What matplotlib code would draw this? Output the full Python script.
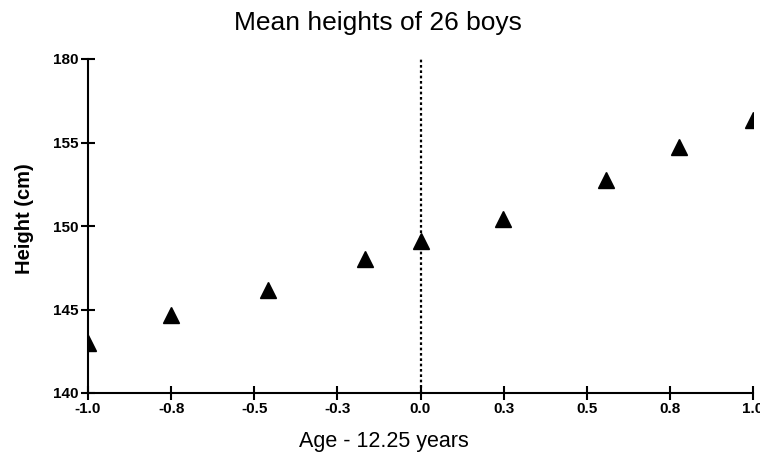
import matplotlib
matplotlib.use("Agg")
import matplotlib.pyplot as plt

# Data
age = [-1.0, -0.75, -0.46, -0.166, 0.0, 0.247, 0.557, 0.777, 1.0]
height = [143.0, 144.67, 146.17, 148.02, 149.1, 150.4, 152.75, 154.73, 156.35]

xticks = [-1.0, -0.75, -0.5, -0.25, 0.0, 0.25, 0.5, 0.75, 1.0]
xticklabels = ["-1.0", "-0.8", "-0.5", "-0.3", "0.0", "0.3", "0.5", "0.8", "1.0"]
yticks = [140, 145, 150, 155, 160]
yticklabels = ["140", "145", "150", "155", "180"]

plt.rcParams['font.family'] = ['Liberation Sans', 'DejaVu Sans']

fig = plt.figure(figsize=(7.6, 4.53), dpi=100)
ax = fig.add_axes([88/760, 60/453, (753-88)/760, (393-59)/453])

ax.plot(age, height, linestyle='none', marker='^', color='black',
        markersize=11, zorder=3)
ax.axvline(0.0, color='black', linestyle=(0, (1.2, 1.2)), linewidth=1.6, zorder=2)

ax.set_xlim(-1.0, 1.0)
ax.set_ylim(140, 160)
ax.set_xticks(xticks)
ax.set_xticklabels(xticklabels, fontweight='bold', fontsize=11)
ax.set_yticks(yticks)
ax.set_yticklabels(yticklabels, fontweight='bold', fontsize=11)

for s in ['top', 'right']:
    ax.spines[s].set_visible(False)
for s in ['left', 'bottom']:
    ax.spines[s].set_linewidth(1.5)
ax.tick_params(axis='both', direction='inout', length=10, width=1.5, pad=1.5)

fig.text(384/760, 1 - 441/453, "Age - 12.25 years", fontsize=15.5,
         ha='center', va='center')
fig.text(24/760, 1 - 219/453, "Height (cm)", fontsize=14.5, fontweight='bold',
         rotation=90, ha='center', va='center')

fig.text(0.497, 1 - 23/453, "Mean heights of 26 boys", fontsize=19,
         ha='center', va='center')

fig.savefig("out.png", dpi=100, facecolor='white')
